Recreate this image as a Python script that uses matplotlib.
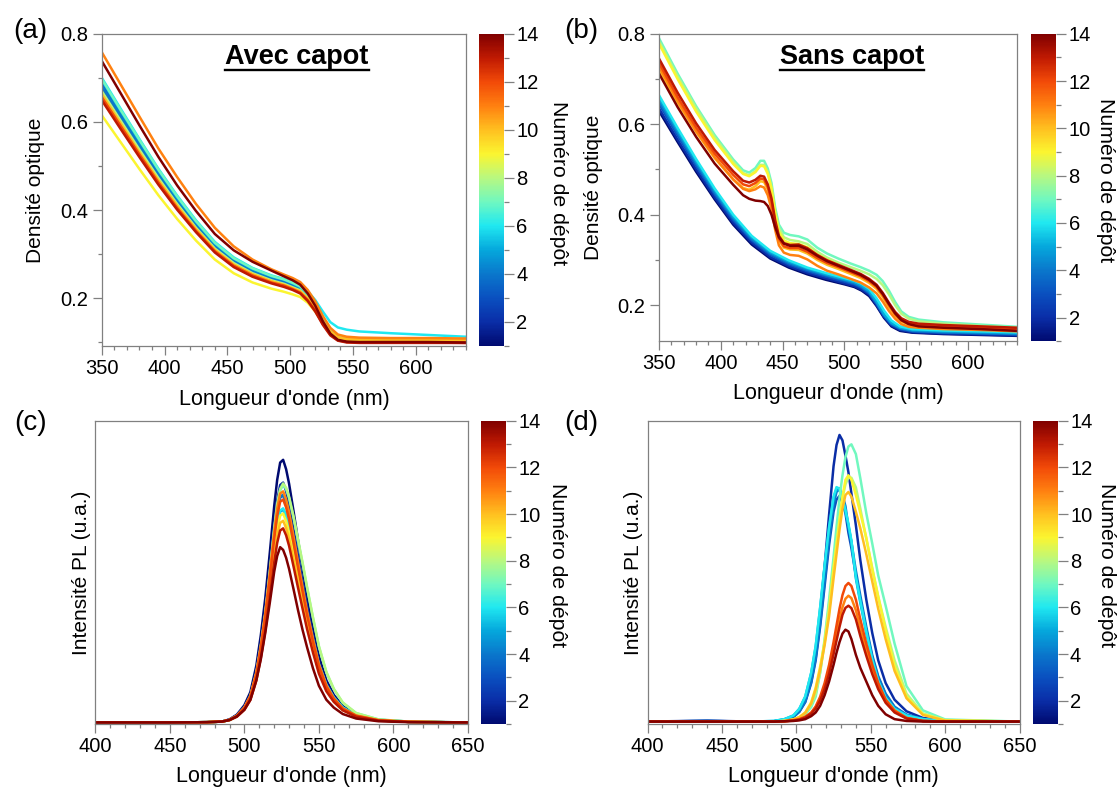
import matplotlib

matplotlib.use("Agg")
import matplotlib.pyplot as plt
from matplotlib.cm import ScalarMappable
from matplotlib.colors import LinearSegmentedColormap, Normalize
from matplotlib.lines import Line2D
from matplotlib.ticker import MultipleLocator, NullLocator

plt.rcParams["font.family"] = ["Liberation Sans", "DejaVu Sans"]

# ---- data ---------------------------------------------------------------
deposits = list(range(1, 15))

# (a) absorption, avec capot
wl_abs_avec = [350, 365, 380, 395, 410, 425, 440, 455, 470, 485, 495, 502, 508, 514,
               520, 526, 532, 538, 545, 555, 580, 610, 640]
od_avec = [
    [.673, .606, .540, .475, .416, .362, .315, .281, .258, .243, .235, .227, .219, .202, .178, .148, .123, .110, .105, .104, .104, .104, .103],
    [.680, .612, .545, .480, .420, .366, .318, .284, .261, .245, .237, .229, .221, .204, .180, .150, .125, .112, .107, .106, .105, .105, .104],
    [.690, .621, .553, .487, .426, .371, .323, .288, .265, .249, .240, .232, .224, .207, .183, .153, .128, .115, .110, .109, .108, .108, .107],
    [.681, .613, .546, .481, .421, .367, .319, .285, .262, .246, .238, .230, .222, .205, .181, .151, .126, .113, .109, .107, .106, .106, .105],
    [.694, .624, .556, .490, .428, .373, .324, .290, .266, .250, .242, .234, .225, .208, .184, .154, .129, .114, .110, .108, .107, .107, .106],
    [.700, .630, .561, .494, .433, .377, .328, .293, .269, .252, .244, .237, .230, .216, .196, .170, .146, .134, .129, .125, .121, .117, .113],
    [.697, .627, .559, .492, .431, .375, .326, .291, .268, .251, .243, .235, .227, .210, .186, .155, .130, .115, .110, .108, .107, .107, .106],
    [.670, .603, .537, .473, .414, .360, .313, .280, .257, .241, .233, .225, .218, .201, .178, .148, .124, .111, .107, .105, .105, .105, .104],
    [.615, .554, .493, .434, .380, .331, .288, .257, .236, .222, .215, .209, .203, .190, .170, .144, .122, .110, .106, .104, .104, .104, .103],
    [.663, .597, .531, .468, .410, .357, .310, .277, .255, .239, .231, .223, .216, .200, .177, .148, .125, .112, .108, .107, .106, .106, .105],
    [.758, .685, .612, .540, .475, .414, .360, .318, .288, .266, .254, .246, .237, .219, .193, .160, .133, .118, .113, .111, .110, .110, .109],
    [.656, .591, .526, .463, .405, .353, .307, .274, .252, .236, .229, .221, .213, .196, .172, .142, .118, .105, .101, .100, .100, .100, .099],
    [.649, .584, .520, .458, .401, .350, .304, .271, .249, .234, .226, .219, .211, .194, .170, .140, .116, .104, .100, .099, .099, .099, .099],
    [.738, .665, .592, .521, .456, .398, .346, .309, .283, .263, .250, .241, .231, .211, .183, .148, .120, .106, .102, .101, .101, .101, .100],
]

# (b) absorption, sans capot: deposits 1-6 (low, smooth) and 7-14 (with bands)
deposits_sans_low = [1, 2, 3, 4, 5, 6]
wl_abs_sans_low = [350, 365, 380, 395, 410, 425, 440, 455, 470, 485, 500, 508, 514, 520,
                   526, 532, 538, 545, 555, 580, 610, 640]
od_sans_low = [
    [.629, .561, .495, .434, .378, .334, .303, .283, .268, .256, .246, .240, .232, .220, .198, .172, .153, .143, .139, .136, .134, .132],
    [.635, .566, .500, .438, .382, .338, .306, .286, .271, .259, .248, .242, .234, .223, .200, .174, .155, .145, .140, .137, .135, .133],
    [.645, .575, .508, .445, .388, .343, .311, .290, .275, .263, .252, .246, .238, .226, .203, .176, .157, .147, .142, .139, .137, .135],
    [.651, .581, .513, .449, .392, .346, .314, .293, .278, .266, .255, .248, .240, .228, .205, .178, .159, .149, .143, .140, .138, .136],
    [.658, .587, .518, .454, .396, .350, .317, .296, .281, .268, .257, .251, .243, .231, .208, .180, .161, .150, .145, .142, .140, .138],
    [.664, .592, .523, .458, .400, .353, .320, .299, .283, .271, .260, .254, .247, .236, .215, .188, .166, .153, .147, .144, .142, .140],
]
deposits_sans_high = [7, 8, 9, 10, 11, 12, 13, 14]
wl_abs_sans_high = [350, 365, 380, 395, 410, 418, 423, 428, 432, 435, 438, 441, 444, 447, 451, 456, 463,
                    470, 478, 486, 495, 505, 513, 520, 526, 531, 536, 541, 546, 552, 560, 580, 610, 640]
od_sans_high = [
    [.790, .712, .640, .576, .522, .498, .493, .503, .519, .519, .502, .470, .415, .378, .360, .355, .352, .345, .327, .314, .303, .292, .284, .276, .267, .253, .232, .207, .186, .174, .168, .162, .157, .152],
    [.783, .706, .635, .571, .517, .492, .487, .496, .510, .510, .494, .462, .408, .370, .350, .344, .341, .335, .318, .305, .294, .284, .276, .268, .258, .244, .224, .200, .181, .170, .164, .159, .154, .150],
    [.778, .700, .628, .565, .512, .490, .485, .494, .508, .507, .490, .457, .402, .362, .343, .337, .335, .328, .312, .300, .289, .276, .266, .254, .240, .222, .200, .180, .167, .160, .156, .153, .149, .146],
    [.722, .648, .583, .525, .478, .459, .455, .463, .474, .472, .456, .425, .377, .343, .327, .323, .322, .314, .300, .289, .280, .269, .260, .249, .236, .218, .196, .177, .164, .157, .154, .151, .148, .145],
    [.728, .652, .585, .527, .478, .457, .452, .456, .463, .460, .443, .413, .366, .332, .316, .311, .309, .301, .287, .276, .268, .258, .250, .239, .226, .208, .187, .170, .158, .152, .150, .147, .145, .142],
    [.736, .660, .593, .535, .488, .467, .463, .470, .480, .478, .461, .430, .381, .347, .330, .326, .326, .318, .304, .293, .284, .273, .264, .253, .240, .222, .200, .180, .166, .159, .155, .152, .150, .147],
    [.745, .670, .602, .543, .496, .475, .471, .477, .486, .484, .467, .436, .387, .353, .337, .333, .334, .326, .311, .299, .289, .278, .269, .258, .245, .227, .205, .185, .171, .163, .159, .156, .153, .150],
    [.712, .638, .572, .513, .466, .443, .435, .431, .430, .428, .419, .400, .372, .350, .336, .331, .331, .323, .309, .297, .287, .276, .267, .256, .243, .225, .203, .182, .167, .158, .153, .150, .147, .143],
]

# (c) photoluminescence, avec capot (arbitrary units)
wl_pl_avec = [400, 450, 475, 485, 490, 495, 500, 504, 508, 511, 514, 517, 520, 522, 524, 526,
              528, 530, 533, 536, 539, 542, 546, 550, 555, 560, 566, 575, 590, 610, 650]
pl_avec = [
    [.005, .005, .006, .008, .015, .031, .062, .105, .192, .292, .414, .562, .718, .805, .862, .871, .840, .792, .701, .605, .514, .423, .318, .223, .144, .096, .059, .031, .014, .008, .005],
    [.005, .005, .006, .008, .015, .029, .057, .096, .176, .267, .379, .514, .657, .736, .788, .796, .768, .724, .641, .554, .470, .387, .291, .204, .132, .088, .054, .029, .013, .007, .005],
    [.005, .005, .006, .008, .014, .028, .054, .092, .167, .253, .359, .487, .622, .698, .747, .754, .728, .686, .607, .525, .446, .366, .276, .193, .125, .084, .052, .028, .013, .007, .005],
    [.005, .005, .006, .008, .014, .028, .054, .092, .167, .254, .360, .488, .624, .700, .749, .756, .730, .688, .609, .526, .447, .367, .277, .194, .126, .084, .052, .028, .013, .007, .005],
    [.005, .005, .006, .008, .013, .026, .051, .086, .157, .238, .337, .457, .584, .655, .700, .707, .683, .644, .570, .492, .418, .344, .259, .182, .118, .079, .049, .026, .012, .007, .005],
    [.005, .005, .006, .008, .013, .026, .051, .087, .158, .239, .339, .459, .587, .658, .704, .711, .690, .655, .585, .510, .438, .365, .278, .197, .130, .088, .055, .029, .013, .007, .005],
    [.005, .005, .006, .008, .013, .026, .053, .090, .165, .252, .360, .495, .640, .720, .770, .788, .775, .745, .680, .605, .530, .450, .350, .255, .170, .115, .070, .036, .015, .008, .005],
    [.005, .005, .006, .008, .013, .026, .053, .091, .167, .255, .364, .500, .645, .725, .775, .793, .779, .749, .684, .608, .533, .453, .352, .257, .172, .116, .071, .036, .015, .008, .005],
    [.005, .005, .006, .008, .013, .026, .050, .085, .154, .233, .330, .448, .572, .642, .687, .694, .669, .631, .559, .482, .410, .337, .254, .178, .116, .078, .048, .026, .012, .007, .005],
    [.005, .005, .006, .008, .013, .025, .048, .082, .149, .225, .319, .433, .553, .620, .663, .670, .646, .610, .539, .466, .396, .326, .245, .172, .112, .075, .046, .025, .012, .007, .005],
    [.005, .005, .006, .008, .014, .028, .055, .093, .170, .258, .365, .495, .633, .710, .760, .767, .740, .698, .618, .534, .453, .373, .281, .197, .128, .085, .052, .028, .013, .007, .005],
    [.005, .005, .006, .008, .014, .027, .053, .090, .164, .249, .352, .478, .611, .685, .733, .740, .714, .674, .596, .515, .437, .360, .271, .190, .123, .083, .051, .027, .012, .007, .005],
    [.005, .005, .006, .008, .013, .024, .047, .079, .143, .217, .307, .417, .532, .597, .638, .645, .622, .587, .519, .449, .381, .314, .236, .166, .108, .073, .045, .024, .011, .007, .005],
    [.005, .005, .006, .008, .013, .025, .047, .080, .144, .213, .300, .398, .502, .554, .583, .574, .548, .511, .444, .375, .311, .254, .184, .126, .080, .054, .033, .018, .009, .006, .005],
]

# (d) photoluminescence, sans capot (deposit 1 not visible)
deposits_pl_sans = list(range(2, 15))
wl_pl_sans = [400, 440, 470, 485, 492, 498, 502, 506, 510, 513, 516, 519, 522, 525, 527, 529,
              531, 533, 535, 537, 540, 543, 547, 551, 555, 560, 566, 574, 585, 600, 650]
pl_sans = [
    [.008, .011, .008, .009, .015, .025, .044, .078, .145, .225, .358, .520, .690, .850, .920, .953, .935, .885, .830, .760, .655, .540, .410, .300, .210, .135, .080, .042, .020, .011, .008],
    [.008, .010, .008, .009, .014, .023, .040, .072, .135, .210, .321, .455, .590, .700, .740, .752, .730, .695, .630, .580, .490, .410, .310, .220, .153, .097, .055, .030, .016, .010, .008],
    [.008, .010, .008, .009, .014, .023, .041, .074, .139, .217, .331, .470, .610, .723, .765, .777, .755, .718, .650, .600, .505, .423, .320, .227, .158, .100, .057, .031, .017, .010, .008],
    [.008, .009, .008, .010, .016, .028, .050, .090, .168, .255, .382, .520, .645, .745, .775, .770, .740, .700, .655, .600, .480, .400, .300, .210, .141, .086, .050, .028, .016, .010, .008],
    [.008, .009, .008, .010, .016, .028, .050, .091, .170, .258, .385, .523, .650, .750, .781, .776, .745, .705, .660, .605, .485, .405, .305, .213, .143, .087, .050, .028, .016, .010, .008],
    [.008, .008, .008, .008, .010, .014, .020, .032, .056, .090, .170, .280, .410, .550, .650, .745, .820, .880, .915, .922, .890, .810, .695, .595, .490, .390, .265, .125, .045, .015, .008],
    [.008, .008, .008, .008, .010, .014, .022, .036, .064, .100, .170, .270, .390, .520, .600, .680, .745, .790, .813, .812, .780, .710, .610, .515, .420, .320, .210, .100, .035, .013, .008],
    [.008, .008, .008, .008, .010, .015, .023, .038, .072, .120, .190, .270, .370, .510, .590, .670, .750, .805, .820, .805, .755, .695, .615, .510, .420, .310, .190, .090, .032, .012, .008],
    [.008, .008, .008, .008, .010, .015, .022, .037, .068, .115, .180, .260, .355, .480, .560, .640, .710, .755, .765, .750, .700, .645, .560, .470, .380, .280, .175, .085, .030, .011, .008],
    [.008, .008, .008, .008, .009, .012, .015, .022, .036, .054, .083, .125, .180, .250, .300, .345, .385, .413, .423, .415, .375, .315, .245, .185, .130, .080, .045, .020, .010, .008, .008],
    [.008, .008, .008, .008, .009, .012, .016, .024, .038, .058, .090, .135, .195, .270, .325, .380, .425, .455, .465, .455, .410, .345, .265, .195, .135, .080, .043, .020, .010, .008, .008],
    [.008, .008, .008, .008, .009, .011, .014, .021, .034, .051, .077, .115, .165, .230, .275, .320, .360, .383, .390, .382, .345, .290, .225, .165, .115, .070, .038, .018, .010, .008, .008],
    [.008, .008, .008, .008, .009, .010, .012, .016, .026, .038, .060, .095, .140, .195, .235, .270, .298, .311, .305, .280, .228, .185, .140, .095, .060, .032, .016, .010, .008, .008, .008],
]

# ---- figure --------------------------------------------------------------
W, H = 1120, 787
fig = plt.figure(figsize=(W / 100, H / 100), dpi=100)
cmap = LinearSegmentedColormap.from_list("depot", [
    "#000a70", "#0a2ea8", "#0a50c0", "#0a78cc", "#05a8dc", "#20e8f0", "#70f8c0",
    "#b8f880", "#fbf530", "#ffc020", "#ff8010", "#f24a08", "#c01a02", "#800000"])
norm = Normalize(vmin=1, vmax=14)
GREY = "#808080"
FS = 14.5
LW = 1.8


def px_axes(left, top, right, bottom):
    return fig.add_axes([left / W, 1 - bottom / H, (right - left) / W, (bottom - top) / H])


def style_axes(ax, xlim, ylim, yticks):
    ax.set_xlim(xlim)
    ax.set_ylim(ylim)
    for s in ax.spines.values():
        s.set_color(GREY)
        s.set_linewidth(0.9)
    ax.xaxis.set_major_locator(MultipleLocator(50))
    ax.xaxis.set_minor_locator(MultipleLocator(10))
    ax.tick_params(which="both", direction="out", color=GREY, width=0.9,
                   labelsize=FS, top=False, right=False)
    ax.tick_params(which="major", length=6.5, pad=2.5)
    ax.tick_params(which="minor", length=3.2)
    ax.tick_params(axis="y", pad=3.5)
    if yticks:
        ax.yaxis.set_major_locator(MultipleLocator(0.2))
        ax.yaxis.set_minor_locator(MultipleLocator(0.1))
    else:
        ax.yaxis.set_major_locator(NullLocator())
        ax.yaxis.set_minor_locator(NullLocator())


def add_colorbar(left, top, right, bottom, label_x):
    cax = px_axes(left, top, right, bottom)
    sm = ScalarMappable(norm=norm, cmap=cmap)
    cb = fig.colorbar(sm, cax=cax)
    cb.set_ticks(list(range(2, 15, 2)))
    cax.yaxis.set_minor_locator(MultipleLocator(1))
    cb.outline.set_visible(False)
    cax.tick_params(which="both", direction="out", color=GREY, width=0.9, labelsize=FS)
    cax.tick_params(which="major", length=7.5, pad=1.5)
    cax.tick_params(which="minor", length=3.8)
    cax.text(label_x, 0.523, "Numéro de dépôt", rotation=270, fontsize=15.3,
             ha="center", va="center", transform=cax.transAxes)


def draw(ax, wl, rows, deps):
    for d, row in zip(deps, rows):
        ax.plot(wl, row, color=cmap(norm(d)), lw=LW)


panels = [
    # name, axes box (px), colorbar box (px)
    ("(a)", (101.8, 33.7, 466, 346), (479, 33.7, 503.6, 346)),
    ("(b)", (659, 33.7, 1017.5, 341.3), (1031, 33.7, 1056, 341.3)),
    ("(c)", (95.4, 420.7, 467.9, 724), (481.4, 420.7, 505.7, 724)),
    ("(d)", (647.5, 420.7, 1019.6, 724), (1033, 420.7, 1057.5, 724)),
]
axes = [px_axes(*p[1]) for p in panels]
ax_a, ax_b, ax_c, ax_d = axes

draw(ax_a, wl_abs_avec, od_avec, deposits)
draw(ax_b, wl_abs_sans_low, od_sans_low, deposits_sans_low)
draw(ax_b, wl_abs_sans_high, od_sans_high, deposits_sans_high)
draw(ax_c, wl_pl_avec, pl_avec, deposits)
draw(ax_d, wl_pl_sans, pl_sans, deposits_pl_sans)

style_axes(ax_a, (350, 640), (0.092, 0.8), True)
style_axes(ax_b, (350, 640), (0.12, 0.8), True)
style_axes(ax_c, (400, 650), (0, 1), False)
style_axes(ax_d, (400, 650), (0, 1), False)

add_colorbar(*panels[0][2], 3.25)
add_colorbar(*panels[1][2], 3.0)
add_colorbar(*panels[2][2], 3.15)
add_colorbar(*panels[3][2], 3.02)

ylab = [("Densité optique", -0.1815), ("Densité optique", -0.1824),
        ("Intensité PL (u.a.)", -0.038), ("Intensité PL (u.a.)", -0.0384)]
xlab_y = [-0.17, -0.17, -0.174, -0.174]
for ax, (txt, x), yy in zip(axes, ylab, xlab_y):
    ax.text(x, 0.5, txt, rotation=90, fontsize=15, ha="center", va="center",
            transform=ax.transAxes)
    ax.text(0.5, yy, "Longueur d'onde (nm)", fontsize=15.5, ha="center",
            va="center", transform=ax.transAxes)

for (name, _, _), (x, y) in zip(panels, [(30, 31.5), (581, 31.5), (31, 422.5), (581, 422.5)]):
    fig.text(x / W, 1 - y / H, name, fontsize=20, ha="center", va="center")

titles = [
    ax_a.text(0.536, 0.902, "Avec capot", fontsize=19.5, fontweight="bold",
              ha="center", va="baseline", transform=ax_a.transAxes),
    ax_b.text(0.538, 0.900, "Sans capot", fontsize=19.5, fontweight="bold",
              ha="center", va="baseline", transform=ax_b.transAxes),
]

# underline the two titles
fig.canvas.draw()
renderer = fig.canvas.get_renderer()
inv = fig.transFigure.inverted()
for t in titles:
    bb = t.get_window_extent(renderer)
    (x0, y0), (x1, _) = inv.transform([(bb.x0, bb.y0), (bb.x1, bb.y1)])
    fig.add_artist(Line2D([x0, x1], [y0 + 0.001, y0 + 0.001], color="black",
                          lw=1.7, transform=fig.transFigure))

fig.savefig("out.png", dpi=100)
